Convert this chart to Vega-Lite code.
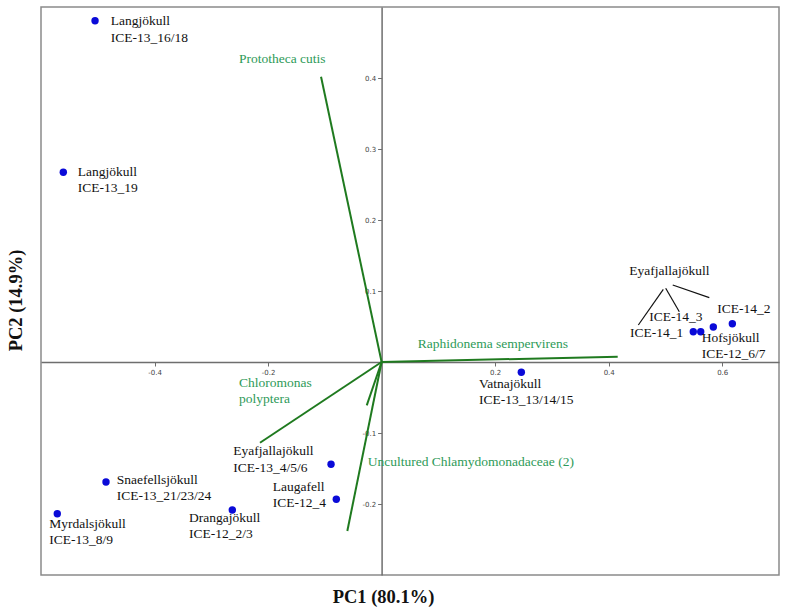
{
  "$schema": "https://vega.github.io/schema/vega-lite/v6.json",
  "width": 738,
  "height": 568,
  "autosize": {"type": "none"},
  "padding": {"left": 41, "top": 7, "right": 8, "bottom": 35},
  "background": "white",
  "config": {"view": {"stroke": "#8a8a8a", "strokeWidth": 1.5}},
  "datasets": {
    "vectors": [
      {"species": "Prototheca cutis", "x0": 0, "y0": 0, "x1": -0.1067, "y1": 0.4018},
      {"species": "Raphidonema sempervirens", "x0": 0, "y0": 0, "x1": 0.4159, "y1": 0.0075},
      {"species": "Chloromonas polyptera", "x0": 0, "y0": 0, "x1": -0.2142, "y1": -0.1137},
      {"species": "Uncultured Chlamydomonadaceae (2)", "x0": 0, "y0": 0, "x1": -0.0604, "y1": -0.238},
      {"species": "Uncultured Chlamydomonadaceae (1)", "x0": 0, "y0": 0, "x1": -0.0262, "y1": -0.061}
    ],
    "leaders": [
      {"x0": 0.4962, "y0": 0.1024, "x1": 0.4522, "y1": 0.0521},
      {"x0": 0.5004, "y0": 0.1038, "x1": 0.5244, "y1": 0.0708},
      {"x0": 0.5128, "y0": 0.1085, "x1": 0.5772, "y1": 0.0906}
    ],
    "samples": [
      {"sample": "Langjökull ICE-13_16/18", "x": -0.5048, "y": 0.4807},
      {"sample": "Langjökull ICE-13_19", "x": -0.5607, "y": 0.2672},
      {"sample": "Snaefellsjökull ICE-13_21/23/24", "x": -0.4855, "y": -0.169},
      {"sample": "Myrdalsjökull ICE-13_8/9", "x": -0.5713, "y": -0.2137},
      {"sample": "Drangajökull ICE-12_2/3", "x": -0.263, "y": -0.2085},
      {"sample": "Eyafjallajökull ICE-13_4/5/6", "x": -0.0891, "y": -0.1441},
      {"sample": "Laugafell ICE-12_4", "x": -0.0798, "y": -0.1934},
      {"sample": "Vatnajökull ICE-13_13/14/15", "x": 0.2461, "y": -0.0145},
      {"sample": "Eyafjallajökull ICE-14_1", "x": 0.549, "y": 0.0427},
      {"sample": "Eyafjallajökull ICE-14_3", "x": 0.5621, "y": 0.0427},
      {"sample": "Hofsjökull ICE-12_6/7", "x": 0.5843, "y": 0.0493},
      {"sample": "Eyafjallajökull ICE-14_2", "x": 0.6178, "y": 0.0539}
    ],
    "sampleLabels": [
      {"label": "Langjökull\nICE-13_16/18", "x": -0.4772, "y": 0.4746},
      {"label": "Langjökull\nICE-13_19", "x": -0.5353, "y": 0.262},
      {"label": "Eyafjallajökull\nICE-13_4/5/6", "x": -0.2612, "y": -0.131},
      {"label": "Snaefellsjökull\nICE-13_21/23/24", "x": -0.4666, "y": -0.1718},
      {"label": "Laugafell\nICE-12_4", "x": -0.1918, "y": -0.1813},
      {"label": "Myrdalsjökull\nICE-13_8/9", "x": -0.5853, "y": -0.2334},
      {"label": "Drangajökull\nICE-12_2/3", "x": -0.3393, "y": -0.2249},
      {"label": "Vatnajökull\nICE-13_13/14/15", "x": 0.1716, "y": -0.0362},
      {"label": "Eyafjallajökull", "x": 0.4363, "y": 0.1225},
      {"label": "ICE-14_3", "x": 0.4716, "y": 0.0582},
      {"label": "ICE-14_1", "x": 0.4376, "y": 0.0356},
      {"label": "ICE-14_2", "x": 0.5913, "y": 0.0694},
      {"label": "Hofsjökull\nICE-12_6/7", "x": 0.5638, "y": 0.0286}
    ],
    "speciesLabels": [
      {"label": "Prototheca  cutis", "x": -0.2512, "y": 0.4207},
      {"label": "Chloromonas\npolyptera", "x": -0.2512, "y": -0.0356},
      {"label": "Raphidonema  sempervirens", "x": 0.0636, "y": 0.0201},
      {"label": "Uncultured  Chlamydomonadaceae  (2)", "x": -0.0245, "y": -0.1458}
    ]
  },
  "layer": [
    {
      "data": {"name": "vectors"},
      "mark": {"type": "rule", "color": "#1f7a1f", "strokeWidth": 2},
      "encoding": {
        "x": {
          "field": "x0", "type": "quantitative",
          "scale": {"domain": [-0.6, 0.7], "nice": false, "zero": false},
          "axis": {
            "title": "PC1 (80.1%)",
            "values": [-0.4, -0.2, 0.2, 0.4, 0.6],
            "labelExpr": "replace(format(datum.value, '.1f'), '\u2212', '-')",
            "offset": -213,
            "grid": false,
            "domainColor": "#6e6e6e", "domainWidth": 1.5,
            "tickColor": "#6e6e6e", "tickSize": 4,
            "labelFont": "DejaVu Sans", "labelFontSize": 7, "labelColor": "#444", "labelPadding": 2,
            "titleFont": "Liberation Serif", "titleFontSize": 18.5, "titleFontWeight": "bold", "titleColor": "#111",
            "titleX": 342, "titleY": 240, "titleAlign": "center", "titleBaseline": "alphabetic"
          }
        },
        "y": {
          "field": "y0", "type": "quantitative",
          "scale": {"domain": [-0.3, 0.5], "nice": false, "zero": false},
          "axis": {
            "title": "PC2 (14.9%)",
            "values": [-0.2, -0.1, 0.1, 0.2, 0.3, 0.4],
            "labelExpr": "replace(format(datum.value, '.1f'), '\u2212', '-')",
            "offset": -340.6,
            "grid": false,
            "domainColor": "#6e6e6e", "domainWidth": 1.5,
            "tickColor": "#6e6e6e", "tickSize": 4,
            "labelFont": "DejaVu Sans", "labelFontSize": 7, "labelColor": "#444", "labelPadding": 2,
            "titleFont": "Liberation Serif", "titleFontSize": 18.5, "titleFontWeight": "bold", "titleColor": "#111",
            "titleX": -360, "titleY": 293, "titleAlign": "center", "titleBaseline": "alphabetic"
          }
        },
        "x2": {"field": "x1"},
        "y2": {"field": "y1"}
      }
    },
    {
      "data": {"name": "leaders"},
      "mark": {"type": "rule", "color": "#111", "strokeWidth": 1.2},
      "encoding": {
        "x": {"field": "x0", "type": "quantitative"},
        "y": {"field": "y0", "type": "quantitative"},
        "x2": {"field": "x1"},
        "y2": {"field": "y1"}
      }
    },
    {
      "data": {"name": "samples"},
      "mark": {"type": "circle", "color": "#0a0ad8", "opacity": 1, "size": 55},
      "encoding": {
        "x": {"field": "x", "type": "quantitative"},
        "y": {"field": "y", "type": "quantitative"}
      }
    },
    {
      "data": {"name": "sampleLabels"},
      "mark": {"type": "text", "align": "left", "baseline": "alphabetic", "font": "Liberation Serif", "fontSize": 13.5, "lineBreak": "\n", "lineHeight": 16.5, "color": "#111"},
      "encoding": {
        "x": {"field": "x", "type": "quantitative"},
        "y": {"field": "y", "type": "quantitative"},
        "text": {"field": "label"}
      }
    },
    {
      "data": {"name": "speciesLabels"},
      "mark": {"type": "text", "align": "left", "baseline": "alphabetic", "font": "Liberation Serif", "fontSize": 13.5, "lineBreak": "\n", "lineHeight": 16, "color": "#2e9a58"},
      "encoding": {
        "x": {"field": "x", "type": "quantitative"},
        "y": {"field": "y", "type": "quantitative"},
        "text": {"field": "label"}
      }
    }
  ]
}
